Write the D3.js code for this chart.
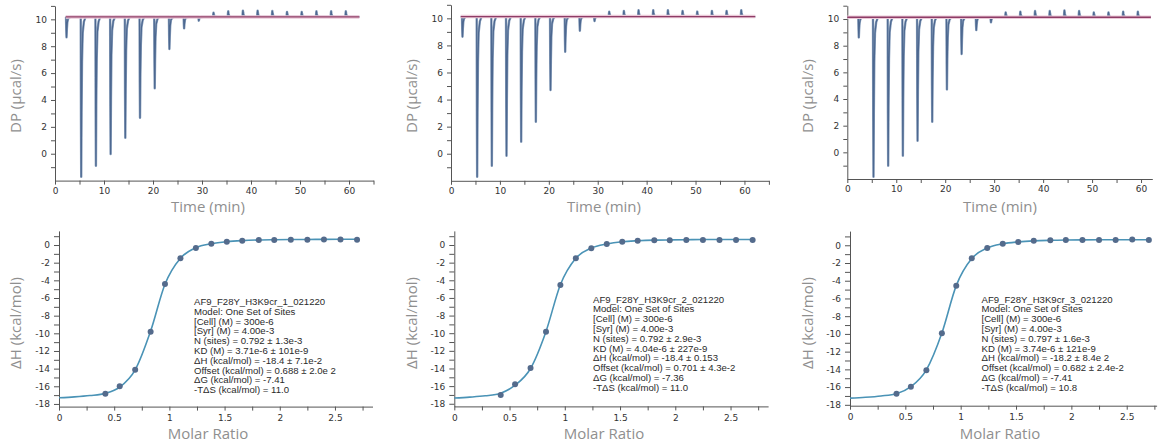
<!DOCTYPE html>
<html>
<head>
<meta charset="utf-8">
<script src="https://cdn.jsdelivr.net/npm/d3@7"></script>
<style>
  body { margin: 0; background: #fff; }
  svg { display: block; }
</style>
</head>
<body>
<svg id="chart" width="1163" height="445"></svg>
<script>
// ---- data ----
const injTimes = [2.25, 5.25, 8.25, 11.25, 14.25, 17.25, 20.25, 23.25, 26.25, 29.25,
  32.25, 35.25, 38.25, 41.25, 44.25, 47.25, 50.25, 53.25, 56.25, 59.25];

// extreme DP value of each injection peak (µcal/s)
const dpPeaks1 = [8.66, -1.71, -0.89, -0.02, 1.19, 2.68, 4.87, 7.79, 9.33, 9.9,
  10.5, 10.6, 10.65, 10.65, 10.62, 10.55, 10.55, 10.6, 10.6, 10.6];
const dpPeaks2 = [8.64, -1.7, -0.89, -0.15, 0.89, 2.36, 4.7, 7.53, 9.08, 9.8,
  10.49, 10.55, 10.6, 10.6, 10.6, 10.55, 10.5, 10.55, 10.55, 10.6];
const dpPeaks3 = [8.62, -1.83, -1.0, -0.25, 0.87, 2.3, 4.72, 7.37, 9.17, 9.75,
  10.5, 10.55, 10.6, 10.6, 10.65, 10.6, 10.5, 10.5, 10.55, 10.55];

// baseline: [start min, end min, DP]
const baseline1 = [2.2, 62.1, 10.18];
const baseline2 = [2.0, 62.2, 10.13];
const baseline3 = [0, 62.0, 10.13];

const molarRatio = [0.42, 0.55, 0.69, 0.83, 0.96, 1.10, 1.24, 1.38, 1.52, 1.66,
  1.81, 1.95, 2.10, 2.25, 2.40, 2.55, 2.70];
const dh1 = [-16.84, -16.0, -14.12, -9.82, -4.42, -1.51, -0.34, 0.15, 0.38, 0.49,
  0.57, 0.57, 0.6, 0.6, 0.62, 0.62, 0.6];
const dh2 = [-17.0, -15.8, -13.95, -9.83, -4.54, -1.51, -0.38, 0.11, 0.37, 0.49,
  0.53, 0.53, 0.57, 0.57, 0.57, 0.57, 0.57];
const dh3 = [-16.75, -15.96, -14.1, -9.93, -4.56, -1.47, -0.3, 0.18, 0.37, 0.52,
  0.56, 0.6, 0.6, 0.6, 0.6, 0.64, 0.6];

const fitRatio = [0, 0.14, 0.28, 0.42, 0.55, 0.69, 0.83, 0.96, 1.10, 1.24, 1.38,
  1.52, 1.66, 1.81, 1.95, 2.10, 2.25, 2.40, 2.55, 2.70];
const fit1 = [-17.3, -17.2, -17.05, -16.8, -16.1, -14.15, -9.75, -4.45, -1.5, -0.3,
  0.15, 0.38, 0.5, 0.57, 0.6, 0.62, 0.63, 0.64, 0.65, 0.65];
const fit2 = [-17.35, -17.25, -17.1, -16.8, -15.9, -14.0, -9.8, -4.5, -1.5, -0.35,
  0.12, 0.37, 0.48, 0.55, 0.58, 0.6, 0.62, 0.62, 0.63, 0.63];
const fit3 = [-17.25, -17.15, -17.0, -16.75, -15.95, -14.05, -9.9, -4.55, -1.5, -0.3,
  0.17, 0.38, 0.5, 0.56, 0.59, 0.61, 0.62, 0.62, 0.63, 0.63];

const timeTicks = [0, 10, 20, 30, 40, 50, 60];
const dpTicks = [0, 2, 4, 6, 8, 10];
const ratioTicks = [0, 0.5, 1, 1.5, 2, 2.5];
const dhTicks = [0, -2, -4, -6, -8, -10, -12, -14, -16, -18];

const notes1 = ["AF9_F28Y_H3K9cr_1_021220", "Model: One Set of Sites", "[Cell] (M) = 300e-6",
  "[Syr] (M) = 4.00e-3", "N (sites) = 0.792 ± 1.3e-3", "KD (M) = 3.71e-6 ± 101e-9",
  "ΔH (kcal/mol) = -18.4 ± 7.1e-2", "Offset (kcal/mol) = 0.688 ± 2.0e 2",
  "ΔG (kcal/mol) = -7.41", "-TΔS (kcal/mol) = 11.0"];
const notes2 = ["AF9_F28Y_H3K9cr_2_021220", "Model: One Set of Sites", "[Cell] (M) = 300e-6",
  "[Syr] (M) = 4.00e-3", "N (sites) = 0.792 ± 2.9e-3", "KD (M) = 4.04e-6 ± 227e-9",
  "ΔH (kcal/mol) = -18.4 ± 0.153", "Offset (kcal/mol) = 0.701 ± 4.3e-2",
  "ΔG (kcal/mol) = -7.36", "-TΔS (kcal/mol) = 11.0"];
const notes3 = ["AF9_F28Y_H3K9cr_3_021220", "Model: One Set of Sites", "[Cell] (M) = 300e-6",
  "[Syr] (M) = 4.00e-3", "N (sites) = 0.797 ± 1.6e-3", "KD (M) = 3.74e-6 ± 121e-9",
  "ΔH (kcal/mol) = -18.2 ± 8.4e 2", "Offset (kcal/mol) = 0.682 ± 2.4e-2",
  "ΔG (kcal/mol) = -7.41", "-TΔS (kcal/mol) = 10.8"];

// ---- layout (pixel placement of each panel) ----
const panels = [
  { peaks: dpPeaks1, base: baseline1, dh: dh1, fit: fit1, notes: notes1,
    top: { left: 55, right: 373.5, tMax: 65, yLow: 180.6, yHigh: 5.9, minLabel: false },
    bot: { left: 59, right: 372.5, rMax: 2.84, dMin: -18.3, yLow: 406.6, yHigh: 230.9 },
    noteX: 194, noteY: 305, titleX: 208, yTitleX: 16 },
  { peaks: dpPeaks2, base: baseline2, dh: dh2, fit: fit2, notes: notes2,
    top: { left: 451, right: 768.9, tMax: 65, yLow: 180.8, yHigh: 4.8, minLabel: false },
    bot: { left: 454.3, right: 768.1, rMax: 2.84, dMin: -18.3, yLow: 406.4, yHigh: 230.9 },
    noteX: 593, noteY: 302.5, titleX: 604, yTitleX: 412 },
  { peaks: dpPeaks3, base: baseline3, dh: dh3, fit: fit3, notes: notes3,
    top: { left: 847.3, right: 1152.3, tMax: 62.3, yLow: 179, yHigh: 5.7, minLabel: true },
    bot: { left: 850, right: 1156.6, rMax: 2.77, dMin: -18.1, yLow: 405.7, yHigh: 231.1 },
    noteX: 981.5, noteY: 302.5, titleX: 1000, yTitleX: 808 }
];

// relative shape of one injection peak: [minutes after injection, fraction of height]
const peakShape = [[0, 0], [0.05, 0.65], [0.1, 1], [0.17, 0.6], [0.26, 0.28],
  [0.4, 0.1], [0.65, 0.03], [1.0, 0]];

const svg = d3.select("#chart");
const axisColor = "#555";
const titleColor = "#8f8f8f";

function styleAxis(g) {
  g.select(".domain").attr("stroke", axisColor);
  g.selectAll(".tick line").attr("stroke", axisColor);
  g.selectAll(".tick text")
    .attr("fill", "#333")
    .style("font-family", "'DejaVu Sans', sans-serif")
    .style("font-size", "9px");
}

panels.forEach((p) => {
  // ---------- top: thermogram ----------
  const x = d3.scaleLinear().domain([0, p.top.tMax]).range([p.top.left, p.top.right]);
  const y = d3.scaleLinear().domain([-2, 11]).range([p.top.yLow, p.top.yHigh]);

  const gx = svg.append("g").attr("transform", `translate(0,${p.top.yLow})`);
  gx.call(d3.axisBottom(x).tickValues(d3.range(0, p.top.tMax + 0.01, 5))
    .tickFormat((d) => (timeTicks.includes(d) ? d : "")).tickSize(4).tickPadding(3).tickSizeOuter(0));
  styleAxis(gx);

  const yTickVals = p.top.minLabel ? [-2].concat(dpTicks) : dpTicks;
  const gy = svg.append("g").attr("transform", `translate(${p.top.left},0)`);
  gy.call(d3.axisLeft(y).tickValues(d3.range(-1, 11.01, 1))
    .tickFormat((d) => (yTickVals.includes(d) ? d : "")).tickSize(4).tickPadding(4).tickSizeOuter(0));
  styleAxis(gy);

  // trace built from injection peaks
  const b = p.base[2];
  const pts = [[p.base[0], b]];
  injTimes.forEach((t, i) => {
    const amp = p.peaks[i] - b;
    peakShape.forEach((s) => pts.push([t + s[0], b + amp * s[1]]));
  });
  pts.push([p.base[1], b]);

  const line = d3.line().x((d) => x(d[0])).y((d) => y(d[1]));
  svg.append("path").datum(pts).attr("d", line)
    .attr("fill", "none").attr("stroke", "#8aa0bd").attr("stroke-width", 2.4)
    .attr("stroke-linejoin", "round");
  svg.append("path").datum(pts).attr("d", line)
    .attr("fill", "none").attr("stroke", "#4d6890").attr("stroke-width", 1.2)
    .attr("stroke-linejoin", "round");

  const baseLine = [[p.base[0], b], [p.base[1], b]];
  svg.append("path").datum(baseLine).attr("d", line)
    .attr("fill", "none").attr("stroke", "#ebc9d8").attr("stroke-width", 3.5);
  svg.append("path").datum(baseLine).attr("d", line)
    .attr("fill", "none").attr("stroke", "#8e3c66").attr("stroke-width", 1.4);

  svg.append("text")
    .attr("x", p.titleX).attr("y", 212).attr("text-anchor", "middle")
    .attr("fill", titleColor).style("font-family", "'Open Sans', sans-serif")
    .style("font-size", "15px").text("Time (min)");
  svg.append("text")
    .attr("transform", `translate(${p.yTitleX + 5},96) rotate(-90)`)
    .attr("text-anchor", "middle")
    .attr("fill", titleColor).style("font-family", "'Open Sans', sans-serif")
    .style("font-size", "15px").text("DP (µcal/s)");

  // ---------- bottom: binding isotherm ----------
  const xr = d3.scaleLinear().domain([0, p.bot.rMax]).range([p.bot.left, p.bot.right]);
  const yh = d3.scaleLinear().domain([p.bot.dMin, 1.6]).range([p.bot.yLow, p.bot.yHigh]);

  const bx = svg.append("g").attr("transform", `translate(0,${p.bot.yLow})`);
  bx.call(d3.axisBottom(xr).tickValues(d3.range(0, p.bot.rMax + 0.001, 0.25))
    .tickFormat((d) => (ratioTicks.includes(d) ? d : "")).tickSize(4).tickPadding(4).tickSizeOuter(0));
  styleAxis(bx);

  const by = svg.append("g").attr("transform", `translate(${p.bot.left},0)`);
  by.call(d3.axisLeft(yh).tickValues(d3.range(-18, 1.01, 1))
    .tickFormat((d) => (dhTicks.includes(d) ? d : "")).tickSize(5).tickPadding(4).tickSizeOuter(0));
  styleAxis(by);

  const fitLine = d3.line().curve(d3.curveMonotoneX)
    .x((d, i) => xr(fitRatio[i])).y((d) => yh(d));
  svg.append("path").datum(p.fit).attr("d", fitLine)
    .attr("fill", "none").attr("stroke", "#4a93b6").attr("stroke-width", 1.6);

  svg.append("g").selectAll("circle").data(p.dh).join("circle")
    .attr("cx", (d, i) => xr(molarRatio[i])).attr("cy", (d) => yh(d))
    .attr("r", 3).attr("fill", "#546b8c");

  const notes = svg.append("text")
    .attr("fill", "#2a2a2a")
    .style("font-family", "'Liberation Sans', Arial, sans-serif")
    .style("font-size", "9.6px");
  p.notes.forEach((s, i) => {
    notes.append("tspan").attr("x", p.noteX).attr("y", p.noteY + i * 9.8).text(s);
  });

  svg.append("text")
    .attr("x", p.titleX).attr("y", 439).attr("text-anchor", "middle")
    .attr("fill", titleColor).style("font-family", "'Open Sans', sans-serif")
    .style("font-size", "15px").text("Molar Ratio");
  svg.append("text")
    .attr("transform", `translate(${p.yTitleX + 5},323) rotate(-90)`)
    .attr("text-anchor", "middle")
    .attr("fill", titleColor).style("font-family", "'Open Sans', sans-serif")
    .style("font-size", "15px").text("ΔH (kcal/mol)");
});
</script>
</body>
</html>
